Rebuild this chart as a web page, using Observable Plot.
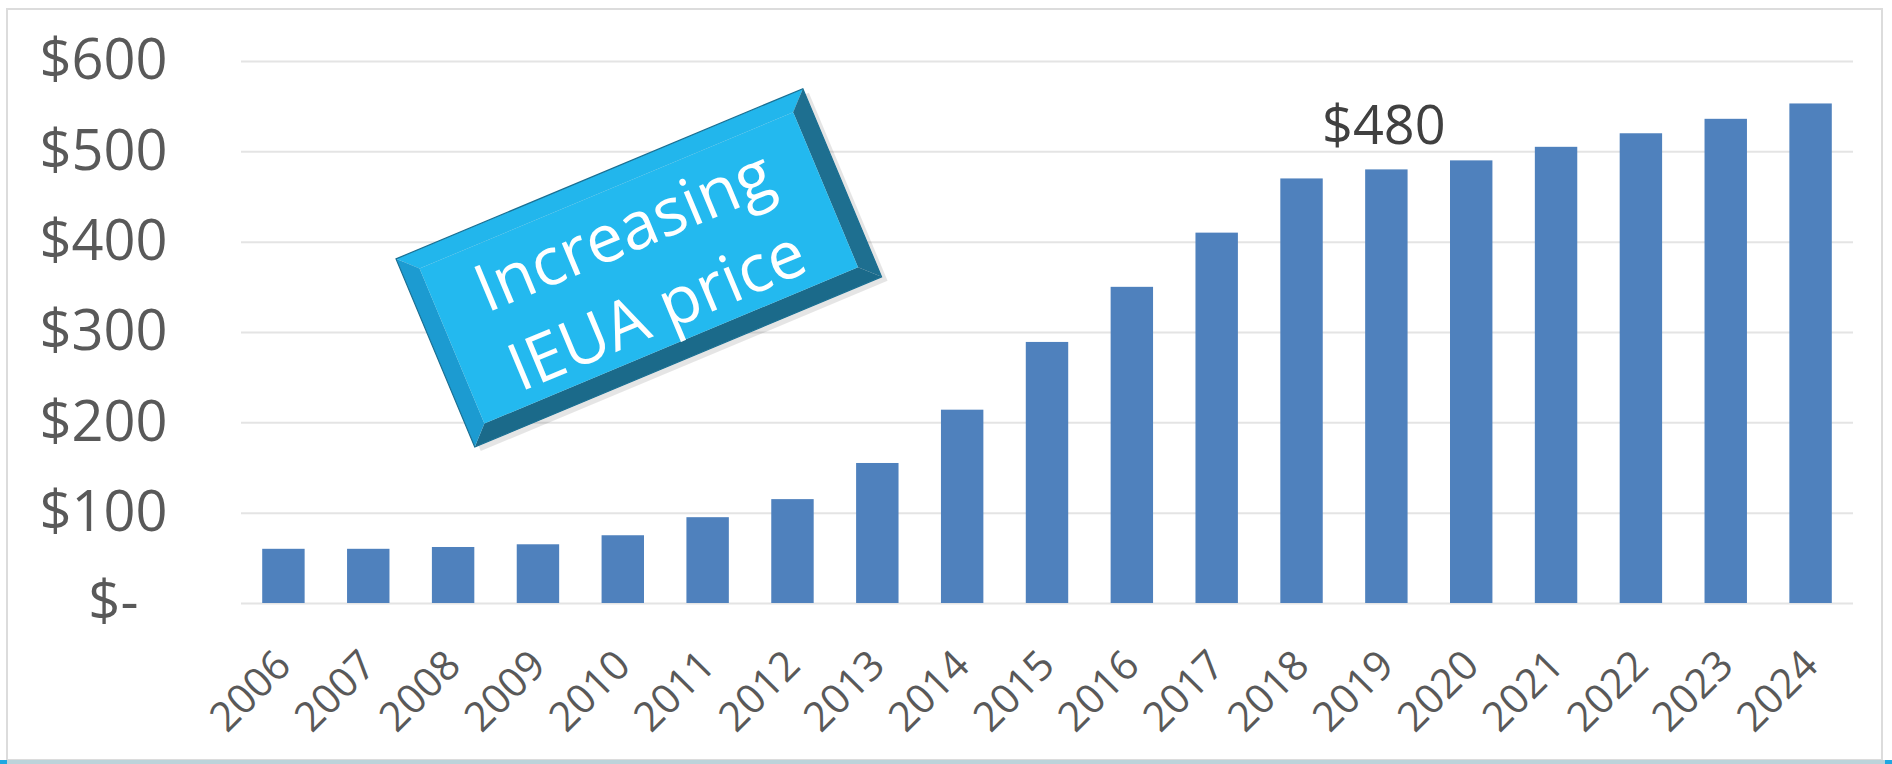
<!DOCTYPE html>
<html>
<head>
<meta charset="utf-8">
<script src="https://cdn.jsdelivr.net/npm/d3@7"></script>
<script src="https://cdn.jsdelivr.net/npm/@observablehq/plot@0.6"></script>
<style>
  html, body { margin: 0; padding: 0; background: #ffffff; }
  #wrap { position: relative; width: 1892px; height: 764px; overflow: hidden; background: #ffffff; }
  #wrap svg { display: block; position: absolute; left: 0; top: 0; }
  .border { position: absolute; left: 6px; top: 8px; width: 1877px; height: 753px; box-sizing: border-box; border: 2px solid #dcdcdc; pointer-events: none; }
  .strip { position: absolute; left: 0; top: 760px; width: 1892px; height: 4px; background: #bcd3da; }
  .sq { position: absolute; top: 760px; width: 7px; height: 4px; background: #1ea8e2; }
</style>
</head>
<body>
<div id="wrap"></div>
<script>
// ---- data ----
const years = ["2006","2007","2008","2009","2010","2011","2012","2013","2014","2015","2016","2017","2018","2019","2020","2021","2022","2023","2024"];
const prices = [60, 60, 62, 65, 75, 95, 115, 155, 214, 289, 350, 410, 470, 480, 490, 505, 520, 536, 553];
const yTicks = [0, 100, 200, 300, 400, 500, 600];
const highlightYear = "2019";
const highlightLabel = "$480";
const calloutText = ["Increasing", "IEUA price"];
const calloutYear = "2010";
const calloutValue = 371;

const data = years.map((year, i) => ({year, price: prices[i]}));
const fmt = d => d === 0 ? "$-\u00a0\u00a0" : "$" + d;

// bevelled callout box drawn in the plot's coordinate system
function calloutBox(index, scales) {
  const sx = scales.x, sy = scales.y;
  const bw = typeof sx.bandwidth === "function" ? sx.bandwidth() : sx.bandwidth;
  const cx = sx(calloutYear) + bw / 2 + 16;
  const cy = sy(calloutValue);
  const W = 441, H = 204, b = 18;
  const X0 = -W/2, X1 = W/2, Y0 = -H/2, Y1 = H/2;
  const x0 = X0 + b, x1 = X1 - b, y0 = Y0 + b, y1 = Y1 - b;
  const g = d3.create("svg:g").attr("transform", `translate(${cx},${cy}) rotate(-22.7)`);
  const poly = (pts, fill) => g.append("polygon").attr("points", pts.map(p => p.join(",")).join(" ")).attr("fill", fill);
  poly([[X0+4,Y0+6],[X1+4,Y0+6],[X1+4,Y1+6],[X0+4,Y1+6]], "rgba(0,0,0,0.10)");
  poly([[X0,Y0],[X1,Y0],[x1,y0],[x0,y0]], "#22b6ec");
  poly([[X1,Y0],[X1,Y1],[x1,y1],[x1,y0]], "#1e6f90");
  poly([[X0,Y1],[X1,Y1],[x1,y1],[x0,y1]], "#1b6a8a");
  poly([[X0,Y0],[X0,Y1],[x0,y1],[x0,y0]], "#1c9bd1");
  poly([[x0,y0],[x1,y0],[x1,y1],[x0,y1]], "#23b9ef");
  g.append("polygon").attr("points", [[X0,Y0],[X1,Y0],[X1,Y1],[X0,Y1]].map(p => p.join(",")).join(" "))
    .attr("fill", "none").attr("stroke", "#1a6f92").attr("stroke-width", 1.2);
  return g.node();
}

const plot = Plot.plot({
  width: 1892,
  height: 764,
  marginLeft: 241,
  marginRight: 39,
  marginTop: 61,
  marginBottom: 161,
  style: {background: "transparent", fontFamily: "'Open Sans', sans-serif", overflow: "visible"},
  x: {domain: years, paddingInner: 0.5, paddingOuter: 0.25, align: 0.5, round: false},
  y: {domain: [0, 600]},
  marks: [
    Plot.ruleY(yTicks, {stroke: "#e4e4e4", strokeWidth: 2}),
    Plot.barY(data, {x: "year", y: "price", fill: "#4f81bd"}),
    Plot.axisY(yTicks, {
      tickSize: 0, tickPadding: 74, tickFormat: fmt,
      fontSize: 56, color: "#595959", label: null
    }),
    Plot.axisX({
      tickSize: 0, tickPadding: 55, tickRotate: -45,
      textAnchor: "end", lineAnchor: "middle",
      fontSize: 41, color: "#595959", label: null
    }),
    Plot.text(data.filter(d => d.year === highlightYear), {
      x: "year", y: "price", text: () => highlightLabel,
      lineAnchor: "middle", dy: -43, dx: -3,
      fontSize: 54, fill: "#404040"
    }),
    calloutBox,
    Plot.text([calloutText.join("\n")], {
      x: () => calloutYear, y: () => calloutValue, text: d => d,
      rotate: -22.7, dx: 15, dy: -2,
      lineAnchor: "middle", textAnchor: "middle", lineHeight: 1.3,
      fontSize: 66, fill: "#ffffff"
    })
  ]
});

const wrap = document.getElementById("wrap");
wrap.appendChild(plot);
for (const cls of ["border", "strip"]) {
  const d = document.createElement("div"); d.className = cls; wrap.appendChild(d);
}
const sqL = document.createElement("div"); sqL.className = "sq"; sqL.style.left = "0px"; wrap.appendChild(sqL);
const sqR = document.createElement("div"); sqR.className = "sq"; sqR.style.left = "1885px"; wrap.appendChild(sqR);
</script>
</body>
</html>
